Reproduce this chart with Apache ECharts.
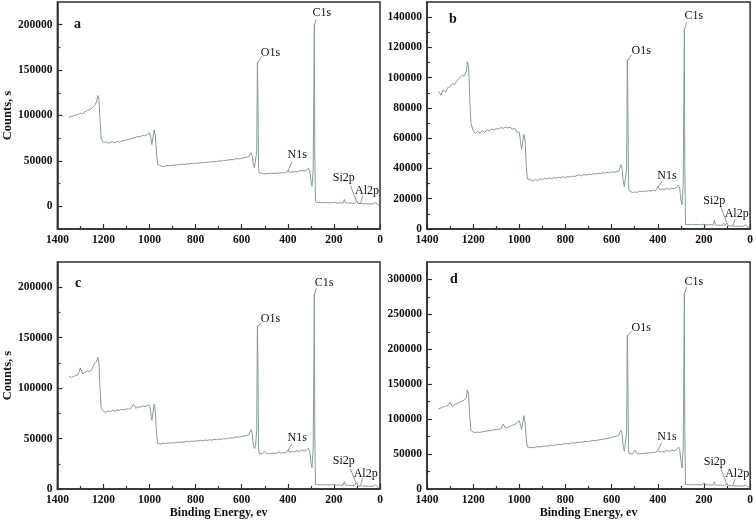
<!DOCTYPE html>
<html><head><meta charset="utf-8">
<script src="https://cdn.jsdelivr.net/npm/echarts@6/dist/echarts.min.js"></script>
<style>html,body{margin:0;padding:0;background:#fff}#c{width:756px;height:523px}</style>
</head><body><div id="c"></div><script>
// Binding energy grid (eV)
const bindingEnergy = [
 1350,1340,1330,1320,1310,1300,1290,1280,1270,1260,1250,1240,1230,
 1225,1220,1215,1210,1200,
 1190,1180,1170,1160,1150,1140,1130,1120,1110,1100,1090,1080,1070,1060,1050,1040,1030,1020,1010,
 1000,995,990,985,980,975,970,965,960,
 950,940,930,920,910,900,890,880,870,860,850,840,830,820,810,800,790,780,770,760,750,740,730,720,710,700,690,680,670,660,650,640,630,620,610,600,590,580,570,
 565,560,555,550,545,540,535,532,530,527,525,520,
 510,500,490,480,470,460,450,440,430,420,410,400,390,380,370,360,350,340,330,320,
 315,310,305,300,295,292,290,287,285,283,280,275,
 270,260,250,240,230,220,210,200,190,180,170,160,
 155,150,140,130,120,115,110,105,100,95,90,80,75,70,60,50,40,30,25,20,15,10,5
];
const countsA = [
 98000,99000,99500,100500,101000,102500,102000,104000,105500,106500,108000,110500,115000,
 122000,118000,95000,74000,70000,
 71000,69500,70500,71000,70000,71500,70500,72000,72500,73000,74000,74500,75500,76000,77000,76500,78000,77500,79000,
 81000,76000,68000,76000,84000,78000,58000,46000,44500,
 44500,43800,44600,45000,44700,45500,45200,46000,45600,46400,46000,46800,46500,47200,46900,47600,47300,48000,47800,48500,48200,49000,48700,49500,49200,50000,49700,50600,50300,51000,51500,51200,52000,52500,52200,53000,53500,54000,54500,
 56000,59000,56000,46000,42500,44000,60000,159000,130000,45000,37000,36000,
 36000,35500,36200,35800,36500,36000,36800,36400,37000,36700,37200,39000,37500,37800,38200,38000,38800,39500,38800,39500,
 41500,42000,39000,28000,22000,23000,40000,130000,200000,60000,5000,4500,
 4200,4000,4300,3900,4100,3800,4000,4500,3700,3900,3600,3800,
 7500,3800,3500,3700,3300,5500,3400,3200,6000,3000,2900,3100,4500,2800,2700,2800,2500,2600,3500,4000,2600,2000,1500
];
const countsB = [
 91000,88500,92000,90500,93500,94000,96000,95500,98000,99500,101500,101000,104000,
 110500,108000,88000,70000,65000,
 63000,64500,63500,65000,64000,65500,64800,66000,65500,66500,66000,67000,66500,67500,66800,67200,66000,66500,64000,
 64000,58000,52500,58000,62500,58000,42000,33000,32000,
 32500,31500,32800,32000,33200,32600,33500,33000,33800,33200,34000,33500,34200,33800,34500,34000,34700,34300,35000,34600,35300,35800,35200,36000,35600,36300,35900,36600,36200,36900,36500,37200,36800,37500,37100,37800,37400,38000,37800,
 39000,42500,40000,32000,28000,27000,40000,112000,90000,30000,25500,24500,
 24000,24500,24200,25000,24600,25200,24800,25400,25000,25600,25200,28000,25800,26500,26000,26800,26200,27000,26600,27500,
 28000,29000,27000,19000,16000,17000,30000,90000,132000,40000,3000,2900,
 3000,2800,3100,2900,3000,2700,2900,3200,2800,2700,2900,2600,
 6000,2700,2500,2600,2400,3800,2300,2200,4000,2100,2000,2100,3000,1900,1800,1900,1700,1800,2500,3000,1700,1300,1000
];
const countsC = [
 112000,110500,111500,112500,113500,120000,114000,115500,117000,116500,118500,124500,126000,
 130500,126000,100000,80000,77000,
 76000,77500,76500,78000,77000,78500,78000,79000,78500,79500,79000,80500,84000,80000,81500,81000,82500,81500,83000,
 83000,76000,68000,76000,84000,77000,56000,45000,44000,
 44500,45500,44800,45800,45300,46000,45600,46500,46000,46800,46300,47200,46800,47500,47100,47800,47400,48200,47800,48500,48100,48800,48400,49200,48800,49500,49100,49900,49500,50300,50800,50400,51200,51600,51300,52000,52500,53000,53500,
 54000,59000,55000,44000,40000,42000,60000,162000,130000,42000,35500,34500,
 35000,37000,34800,35300,35000,35600,35200,37000,35500,36000,35800,38500,36500,37000,36600,38000,37000,38500,37500,38500,
 40000,40500,37000,27000,21000,22000,40000,125000,193000,55000,4500,4200,
 4300,4100,4400,4000,4200,3900,4100,4600,3800,4000,3700,3900,
 7500,3900,3600,3800,3400,5000,3500,3300,6500,3100,3000,3200,4500,2900,2800,2900,2600,2700,3600,4200,2700,2100,1600
];
const countsD = [
 115000,116000,117500,118500,119500,124500,118000,121000,122500,124000,125500,127000,131000,
 142000,136000,105000,84000,81500,
 81000,81500,81000,82000,82500,83000,83500,84000,84500,85000,85500,86000,93000,87000,88500,89500,91000,92500,95000,
 98000,92000,85000,95000,105000,95000,72000,60000,59000,
 59500,59000,60000,60500,60200,61000,61500,61200,62200,62700,62400,63300,63800,63500,64400,64900,64600,65500,66000,65700,66600,67100,66800,67700,68200,68000,68900,69400,69100,70000,70600,71000,71800,72300,73000,74000,75000,75800,76500,
 77000,84000,79000,62000,54000,55000,80000,220000,170000,60000,51000,50500,
 50000,56000,50500,51000,50600,51500,51200,52000,51600,52500,52200,55000,53000,53500,53200,55000,54000,55500,54500,56000,
 58000,60000,56000,40000,30000,32000,60000,180000,280000,80000,6500,6200,
 6300,6000,6400,6100,6200,5900,6100,8500,5800,6000,5700,5900,
 10500,5800,5500,5700,5200,7000,5300,5000,8000,4800,4700,4900,6000,4500,4400,4500,4200,4300,5000,5500,4000,3200,2500
];
// Tick values
const xTicks = [0,200,400,600,800,1000,1200,1400];
const xMinor = [100,300,500,700,900,1100,1300];
const yTicksA = [0,50000,100000,150000,200000];
const yMinorA = [25000,75000,125000,175000];
const yTicksB = [0,20000,40000,60000,80000,100000,120000,140000];
const yMinorB = [10000,30000,50000,70000,90000,110000,130000];
const yTicksC = [0,50000,100000,150000,200000];
const yMinorC = [25000,75000,125000,175000];
const yTicksD = [0,50000,100000,150000,200000,250000,300000];
const yMinorD = [25000,75000,125000,175000,225000,275000];
// Peak annotations: [label, textX, textY, leaderX1, leaderY1, leaderX2, leaderY2]
const annotationsA = [
 ['C1s',250,212000,285,199000,277,206000],
 ['O1s',473,168000,531,158000,514,165000],
 ['N1s',357,55600,401,37800,382,49000],
 ['Si2p',155,31100,128,23000,103,6000],
 ['Al2p',54,16400,75,11500,84,3500]
];
const annotationsB = [
 ['C1s',242,140300,285,131500,275,136500],
 ['O1s',470,117200,532,111000,514,115000],
 ['N1s',358,34700,400,27500,383,31000],
 ['Si2p',153,18200,128,14900,102,4500],
 ['Al2p',56,9400,65,6500,75,2000]
];
const annotationsC = [
 ['C1s',241,203700,285,192000,277,199000],
 ['O1s',473,168300,531,161000,514,165000],
 ['N1s',357,50200,401,37500,382,45000],
 ['Si2p',155,27800,128,20000,103,5500],
 ['Al2p',60,15000,75,10500,84,4000]
];
const annotationsD = [
 ['C1s',242,296200,285,279000,275,289000],
 ['O1s',470,230400,532,219000,514,226000],
 ['N1s',358,73800,400,55500,383,66000],
 ['Si2p',151,38600,128,30000,102,8000],
 ['Al2p',54,20500,65,14000,75,5500]
];
const panelLetters = ['a','b','c','d'];

const SERIF = '"Liberation Serif","Times New Roman",serif';
const LINE = '#879a9a';
const AX = '#2e2e2e';
const TXT = '#111';
const layout = [
 {grid:{left:55,top:2,width:325,height:227}, yMin:-25000, yMax:225000, letter:{left:74,top:17}, yName:true, xName:false},
 {grid:{left:427,top:2,width:324,height:227}, yMin:0, yMax:150000, letter:{left:449,top:12}, yName:false, xName:false},
 {grid:{left:55,top:262,width:325,height:227}, yMin:0, yMax:225000, letter:{left:75,top:276}, yName:true, xName:true},
 {grid:{left:427,top:262,width:324,height:227}, yMin:0, yMax:325000, letter:{left:450,top:272}, yName:false, xName:true}
];
const countsList = [countsA,countsB,countsC,countsD];
const yTickList = [yTicksA,yTicksB,yTicksC,yTicksD];
const yMinorList = [yMinorA,yMinorB,yMinorC,yMinorD];
const annList = [annotationsA,annotationsB,annotationsC,annotationsD];
const plain = v => String(Math.round(v));

const grids=[], xAxes=[], yAxes=[], series=[], titles=[];
layout.forEach((L,i)=>{
 grids.push(Object.assign({show:true,borderColor:AX,borderWidth:1.5,containLabel:false},L.grid));
 xAxes.push({gridIndex:i,type:'value',min:0,max:1400,inverse:true,position:'bottom',
  axisLine:{show:true,onZero:false,lineStyle:{color:AX,width:1.5}},
  axisTick:{show:true,inside:true,length:5,customValues:xTicks,lineStyle:{color:AX,width:1.2}},
  axisLabel:{show:true,customValues:xTicks,formatter:plain,fontFamily:SERIF,fontWeight:'bold',fontSize:11.5,color:TXT,margin:5},
  splitLine:{show:false},
  name:L.xName?'Binding Energy, ev':'',nameLocation:'middle',nameGap:18,
  nameTextStyle:{fontFamily:SERIF,fontWeight:'bold',fontSize:12,color:TXT}});
 xAxes.push({gridIndex:i,type:'value',min:0,max:1400,inverse:true,position:'bottom',
  axisLine:{show:false,onZero:false},axisTick:{show:true,inside:true,length:3,customValues:xMinor,lineStyle:{color:AX,width:1.2}},
  axisLabel:{show:false},splitLine:{show:false}});
 yAxes.push({gridIndex:i,type:'value',min:L.yMin,max:L.yMax,position:'left',
  axisLine:{show:true,onZero:false,lineStyle:{color:AX,width:1.5}},
  axisTick:{show:true,inside:true,length:5,customValues:yTickList[i],lineStyle:{color:AX,width:1.2}},
  axisLabel:{show:true,customValues:yTickList[i],formatter:plain,fontFamily:SERIF,fontWeight:'bold',fontSize:11.5,color:TXT,margin:5},
  splitLine:{show:false},
  name:L.yName?'Counts, s':'',nameLocation:'middle',nameGap:38,
  nameTextStyle:{fontFamily:SERIF,fontWeight:'bold',fontSize:12.5,color:TXT}});
 yAxes.push({gridIndex:i,type:'value',min:L.yMin,max:L.yMax,position:'left',
  axisLine:{show:false,onZero:false},axisTick:{show:true,inside:true,length:3,customValues:yMinorList[i],lineStyle:{color:AX,width:1.2}},
  axisLabel:{show:false},splitLine:{show:false}});
 const data = bindingEnergy.map((e,k)=>[e,countsList[i][k]]);
 series.push({type:'line',xAxisIndex:2*i,yAxisIndex:2*i,data:data,showSymbol:false,symbol:'none',
  lineStyle:{color:LINE,width:1},animation:false,z:3});
 series.push({type:'lines',coordinateSystem:'cartesian2d',xAxisIndex:2*i,yAxisIndex:2*i,
  data:annList[i].map(a=>({coords:[[a[3],a[4]],[a[5],a[6]]]})),
  lineStyle:{color:LINE,width:1,opacity:1},animation:false,z:3});
 series.push({type:'scatter',xAxisIndex:2*i,yAxisIndex:2*i,symbolSize:1,itemStyle:{opacity:0},
  data:annList[i].map(a=>({name:a[0],value:[a[1],a[2]]})),
  label:{show:true,position:[0,0],align:'center',verticalAlign:'middle',formatter:'{b}',fontFamily:SERIF,fontSize:12,color:TXT,opacity:1},
  animation:false,z:4});
 titles.push({text:panelLetters[i],left:L.letter.left,top:L.letter.top,padding:0,
  textStyle:{fontFamily:SERIF,fontWeight:'bold',fontSize:14,color:TXT}});
});
const chart = echarts.init(document.getElementById('c'),null,{renderer:'canvas'});
chart.setOption({animation:false,backgroundColor:'#fff',title:titles,grid:grids,xAxis:xAxes,yAxis:yAxes,series:series,tooltip:{show:false}});
</script></body></html>
